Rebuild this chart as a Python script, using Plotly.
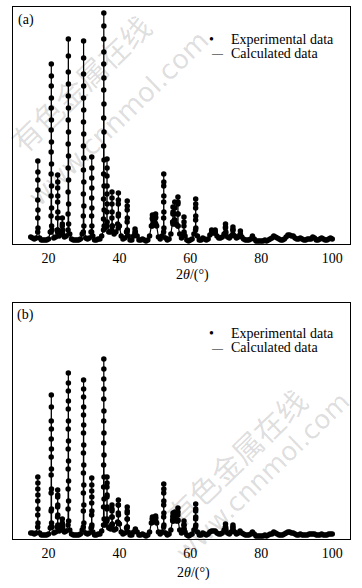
import plotly.graph_objects as go

# ---------------- data ----------------
# 2theta axis
x_ticks = [20, 40, 60, 80, 100]
x_tick_labels = ["20", "40", "60", "80", "100"]

# background / low-intensity part of the patterns, every 0.5 deg from 15 to 100 deg
bg_start = 15.0
bg_step = 0.5
bg_a = [7, 6, 5, 6, 14, 6, 4, 4, 4, 4,
        5, 12, 14, 6, 7, 14, 8, 10, 14, 7,
        8, 16, 10, 5, 4, 4, 4, 4, 5, 10,
        14, 6, 5, 6, 12, 8, 4, 4, 5, 5,
        8, 18, 16, 22, 12, 12, 18, 10, 12, 20,
        18, 8, 5, 6, 12, 8, 4, 4, 8, 12,
        8, 4, 4, 5, 4, 3, 4, 8, 18, 22,
        22, 18, 7, 5, 8, 14, 6, 4, 5, 10,
        22, 24, 20, 22, 10, 6, 10, 8, 4, 3,
        4, 5, 10, 16, 8, 4, 4, 6, 5, 4,
        5, 9, 12, 11, 12, 8, 6, 6, 7, 10,
        12, 7, 6, 8, 11, 8, 6, 7, 9, 7,
        5, 4, 4, 4, 5, 8, 5, 3, 3, 3,
        3, 3, 4, 3, 4, 5, 6, 8, 7, 6,
        5, 4, 4, 5, 7, 9, 9, 8, 8, 6,
        5, 5, 6, 5, 4, 4, 5, 5, 5, 7,
        6, 4, 4, 5, 6, 5, 4, 4, 5, 6,
        5]
bg_b = [6, 6, 5, 6, 12, 6, 4, 4, 4, 4,
        5, 11, 12, 6, 7, 12, 8, 9, 12, 7,
        8, 14, 9, 5, 4, 4, 4, 4, 5, 9,
        12, 6, 5, 6, 11, 7, 4, 4, 5, 5,
        8, 16, 14, 18, 11, 10, 15, 9, 10, 17,
        15, 7, 5, 6, 11, 7, 4, 4, 7, 10,
        7, 4, 4, 5, 4, 3, 4, 7, 16, 19,
        19, 16, 7, 5, 7, 13, 6, 4, 5, 9,
        19, 21, 18, 19, 9, 6, 9, 7, 4, 3,
        4, 5, 9, 14, 7, 4, 4, 6, 5, 4,
        5, 7, 8, 8, 8, 6, 5, 5, 6, 9,
        10, 6, 5, 7, 10, 7, 5, 6, 8, 6,
        5, 4, 4, 4, 5, 7, 5, 3, 3, 3,
        3, 3, 4, 3, 4, 5, 5, 7, 6, 5,
        4, 4, 4, 5, 6, 7, 7, 6, 6, 5,
        4, 4, 5, 4, 4, 4, 4, 5, 5, 5,
        5, 4, 4, 4, 5, 4, 4, 4, 5, 5,
        5]

# Bragg peaks: centre 2theta -> measured intensities (ascending 2theta, 0.01 deg step)
core_step = 0.01
peaks_a = {
    17.0: [12, 26, 44, 64, 83, 72, 54, 34, 16],
    20.8: [12, 28, 48, 70, 92, 114, 136, 158, 180, 168, 146, 124, 102, 80, 58, 36, 18],
    22.6: [12, 26, 42, 56, 69, 62, 48, 32, 14],
    23.9: [10, 18, 26, 20, 11],
    25.6: [14, 30, 52, 76, 100, 124, 148, 172, 205, 188, 160, 136, 112, 88, 64, 40, 20],
    29.9: [12, 28, 50, 74, 98, 122, 146, 170, 203, 186, 158, 134, 110, 86, 62, 38, 18],
    32.2: [12, 28, 46, 66, 87, 76, 56, 36, 18],
    35.6: [14, 25, 45, 70, 98, 126, 154, 180, 205, 231, 218, 192, 166, 140, 112, 84, 58, 34, 18],
    36.5: [18, 32, 50, 68, 85, 76, 58, 40, 22],
    37.9: [14, 26, 40, 52, 46, 32, 18],
    39.7: [16, 28, 40, 51, 44, 30, 18],
    42.2: [12, 22, 34, 43, 38, 26, 14],
    44.4: [10, 15, 12],
    49.3: [18, 25, 29, 26, 19],
    50.2: [20, 26, 30, 27, 20],
    52.5: [12, 26, 42, 58, 70, 62, 48, 32, 16],
    55.1: [20, 30, 37, 32, 22],
    55.6: [20, 30, 42, 36, 24],
    56.5: [18, 30, 40, 47, 42, 30, 18],
    58.2: [10, 18, 27, 22, 12],
    61.5: [14, 24, 36, 45, 40, 28, 16],
    66.0: [11, 14, 12],
    67.0: [11, 14, 12],
    69.9: [10, 16, 20, 17, 11],
    72.0: [10, 14, 17, 14, 9],
    74.1: [9, 13, 10],
}
peaks_b = {
    17.0: [12, 24, 38, 50, 62, 56, 44, 30, 16],
    20.8: [12, 28, 46, 64, 82, 100, 118, 144, 132, 110, 90, 70, 50, 30, 16],
    22.6: [12, 22, 32, 42, 49, 44, 34, 24, 14],
    23.9: [10, 15, 20, 16, 10],
    25.6: [14, 30, 50, 70, 90, 110, 130, 148, 166, 156, 138, 118, 98, 78, 58, 38, 18],
    29.9: [12, 28, 46, 66, 86, 106, 124, 142, 159, 150, 132, 114, 94, 74, 54, 34, 16],
    32.2: [12, 24, 36, 48, 61, 54, 42, 28, 14],
    35.6: [14, 32, 52, 74, 96, 118, 140, 160, 180, 170, 150, 128, 106, 84, 62, 40, 20],
    36.5: [18, 30, 42, 52, 62, 56, 44, 32, 20],
    37.9: [14, 22, 28, 34, 30, 22, 14],
    39.7: [16, 26, 34, 39, 34, 24, 16],
    42.2: [12, 20, 26, 32, 28, 20, 12],
    49.3: [17, 20, 22, 20, 17],
    50.2: [18, 21, 23, 21, 18],
    52.5: [12, 22, 34, 46, 55, 50, 38, 26, 14],
    55.1: [18, 22, 26, 23, 18],
    55.6: [19, 24, 27, 24, 19],
    56.5: [18, 24, 31, 27, 19],
    58.2: [10, 14, 18, 14, 10],
    61.5: [12, 20, 28, 35, 30, 22, 14],
    69.9: [9, 12, 15, 12, 9],
    72.0: [9, 12, 14, 11, 8],
}


def assemble(bg, peaks):
    pts, spans = [], []
    for centre, vals in peaks.items():
        k = vals.index(max(vals))
        xs = [centre + (i - k) * core_step for i in range(len(vals))]
        spans.append((xs[0] - 0.03, xs[-1] + 0.03))
        pts += list(zip(xs, vals))
    for i, v in enumerate(bg):
        x = bg_start + i * bg_step
        if not any(a <= x <= b for a, b in spans):
            pts.append((x, v))
    pts.sort()
    return [p[0] for p in pts], [p[1] for p in pts]


tt_a, obs_a = assemble(bg_a, peaks_a)
tt_b, obs_b = assemble(bg_b, peaks_b)
# the refined (calculated) profile overlays the observations
calc_a = list(obs_a)
calc_b = list(obs_b)

# ---------------- figure ----------------
W, H = 362, 588
serif = "Liberation Serif"
fig = go.Figure()

for tt, obs, calc, xa, ya in [(tt_a, obs_a, calc_a, "x", "y"), (tt_b, obs_b, calc_b, "x2", "y2")]:
    fig.add_trace(go.Scatter(x=tt, y=calc, mode="lines", xaxis=xa, yaxis=ya,
                             line=dict(color="black", width=1.2), showlegend=False,
                             name="Calculated data"))
    fig.add_trace(go.Scatter(x=tt, y=obs, mode="markers", xaxis=xa, yaxis=ya,
                             marker=dict(color="black", size=5.5), showlegend=False,
                             name="Experimental data"))

xdom = [13 / W, 350 / W]
axis_common = dict(showline=True, mirror=True, linecolor="black", linewidth=1,
                   showgrid=False, zeroline=False)
fig.update_layout(
    width=W, height=H, margin=dict(l=0, r=0, t=0, b=0),
    paper_bgcolor="white", plot_bgcolor="white",
    xaxis=dict(domain=xdom, range=[10, 105], anchor="y", tickvals=x_ticks, ticktext=x_tick_labels,
               ticks="outside", ticklen=1, tickcolor="rgba(0,0,0,0)",
               tickfont=dict(family=serif, size=14, color="black"), **axis_common),
    yaxis=dict(domain=[1 - 244 / H, 1 - 7 / H], range=[0, 237], anchor="x",
               showticklabels=False, ticks="", **axis_common),
    xaxis2=dict(domain=xdom, range=[10, 105], anchor="y2", tickvals=x_ticks, ticktext=x_tick_labels,
                ticks="outside", ticklen=1, tickcolor="rgba(0,0,0,0)",
                tickfont=dict(family=serif, size=14, color="black"), **axis_common),
    yaxis2=dict(domain=[1 - 539 / H, 1 - 303 / H], range=[0, 236], anchor="x2",
                showticklabels=False, ticks="", **axis_common),
)


def px_ann(text, x, y, size=14, xanchor="center", family=serif, color="black", angle=0):
    fig.add_annotation(text=text, x=x / W, y=1 - y / H, xref="paper", yref="paper",
                       xanchor=xanchor, yanchor="middle", showarrow=False, textangle=angle,
                       font=dict(family=family, size=size, color=color))


# watermarks
wm = "rgba(0,0,0,0.14)"
px_ann("有色金属在线", 80, 83, size=30, family="Noto Sans CJK SC", color=wm, angle=-44)
px_ann("www.cnnmol.com", 118, 118, size=27, family="DejaVu Sans", color=wm, angle=-44)
px_ann("有色金属在线", 236, 457, size=30, family="Noto Sans CJK SC", color=wm, angle=-44)
px_ann("www.cnnmol.com", 262, 477, size=26, family="DejaVu Sans", color=wm, angle=-44)

# panel labels
px_ann("(a)", 26, 20)
px_ann("(b)", 25, 315)

# legends
for y0 in (39, 333):
    px_ann("•", 212, y0, size=14)
    px_ann("Experimental data", 228.5, y0, xanchor="left")
    px_ann("—", 217, y0 + 14.5, size=11)
    px_ann("Calculated data", 228.5, y0 + 14.5, xanchor="left")

# axis titles
px_ann("2<i>θ</i>/(°)", 192, 275)
px_ann("2<i>θ</i>/(°)", 193, 573)

fig.write_html("out.html", config={"displayModeBar": False},
               post_script="document.body.style.margin='0';")
